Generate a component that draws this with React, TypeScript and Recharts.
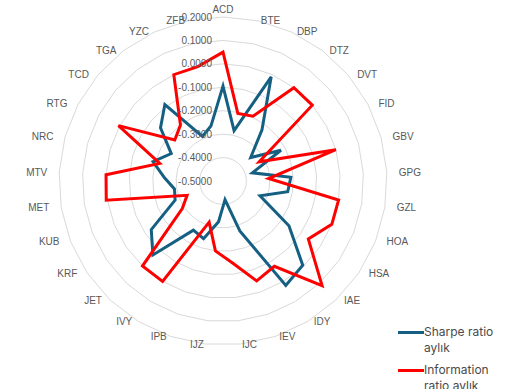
import { RadarChart, Radar, PolarGrid, PolarAngleAxis, PolarRadiusAxis, Legend } from 'recharts'

const categories = [
  'ACD', 'BTE', 'DBP', 'DTZ', 'DVT', 'FID', 'GBV', 'GPG', 'GZL', 'HOA',
  'HSA', 'IAE', 'IDY', 'IEV', 'IJC', 'IJZ', 'IPB', 'IVY', 'JET', 'KRF',
  'KUB', 'MET', 'MTV', 'NRC', 'RTG', 'TCD', 'TGA', 'YZC', 'ZFB'
]

const sharpeMonthly = [
  -0.095, -0.28, -0.01, -0.225, -0.345, -0.22, -0.37, -0.21, -0.22, -0.33,
  -0.16, -0.005, 0.02, -0.275, -0.42, -0.325, -0.24, -0.255, -0.065, -0.13,
  -0.28, -0.29, -0.25, -0.19, -0.25, -0.15, -0.09, -0.29, -0.26
]

const infoMonthly = [
  0.05, -0.205, -0.195, 0.0, 0.0, -0.325, 0.0, -0.305, 0.0, 0.0,
  -0.06, 0.115, -0.075, -0.05, -0.15, -0.2, -0.315, 0.0, 0.0, -0.29,
  -0.335, 0.005, 0.0, -0.22, 0.005, -0.23, -0.2, 0.0, 0.0
]

const radiusTicks = [-0.5, -0.4, -0.3, -0.2, -0.1, 0, 0.1, 0.2]

const seriesNames = ['Sharpe ratio aylık', 'Information ratio aylık']

const data = categories.map((name, i) => ({
  name,
  sharpe: sharpeMonthly[i],
  info: infoMonthly[i]
}))

const CX = 223
const CY = 181
const R = 164
const GREY = '#595959'
const BLUE = '#156082'
const RED = '#ff0000'

const fmt = (v: number) => (Math.abs(v) < 1e-9 ? 0 : v).toFixed(4)

// Excel puts the category labels just outside the outer ring
const AngleTick = ({ payload }: any) => {
  const i = categories.indexOf(payload.value)
  const a = (i * 2 * Math.PI) / categories.length
  const s = Math.sin(a)
  const c = Math.cos(a)
  const anchor = Math.abs(s) < 0.05 ? 'middle' : s > 0 ? 'start' : 'end'
  const x = CX + 176 * s
  let y = CY - 164.5 * c
  if (anchor === 'middle' && c > 0) y -= 7
  return (
    <text x={x} y={y} textAnchor={anchor} dominantBaseline="central"
      fontSize={10} fill={GREY} fontFamily="'Liberation Sans', Arial, sans-serif">
      {payload.value}
    </text>
  )
}

const RadiusTick = ({ x, y, payload }: any) => (
  <text x={x - 11} y={y} textAnchor="end" dominantBaseline="central"
    fontSize={10} fill={GREY} fontFamily="'Liberation Sans', Arial, sans-serif">
    {fmt(payload.value)}
  </text>
)

const LegendContent = ({ payload }: any) => {
  const items = [...(payload || [])].sort(
    (a: any, b: any) => seriesNames.indexOf(a.value) - seriesNames.indexOf(b.value)
  )
  return (
    <div style={{ fontFamily: 'Inter, sans-serif', fontSize: 12, color: '#4a4a4a' }}>
      {items.map((p: any) => (
        <div key={p.value} style={{ display: 'flex', alignItems: 'flex-start', marginBottom: 6 }}>
          <span style={{
            width: 26, height: 3, marginTop: 6.5, flexShrink: 0,
            background: p.dataKey === 'info' ? RED : BLUE
          }} />
          <span style={{ width: 80, lineHeight: '16px' }}>{p.value}</span>
        </div>
      ))}
    </div>
  )
}

export default function App() {
  return (
    <div style={{ position: 'absolute', left: 0, top: 0, width: 505, height: 389, background: '#fff' }}>
      <RadarChart width={505} height={389} data={data} cx={CX} cy={CY} outerRadius={R}
        margin={{ top: 0, right: 0, bottom: 0, left: 0 }}>
        <PolarGrid gridType="polygon" radialLines={false} stroke="#d9d9d9" strokeWidth={1} />
        <PolarAngleAxis dataKey="name" tick={<AngleTick />} tickLine={false} axisLine={false} />
        <PolarRadiusAxis angle={90} type="number" domain={[-0.5, 0.2]} ticks={radiusTicks}
          tickCount={8} allowDecimals axisLine={false} tickLine={false} tick={<RadiusTick />} />
        <Radar name={seriesNames[0]} dataKey="sharpe" stroke={BLUE} strokeWidth={3}
          fill="none" fillOpacity={0} dot={false} isAnimationActive={false} />
        <Radar name={seriesNames[1]} dataKey="info" stroke={RED} strokeWidth={3}
          fill="none" fillOpacity={0} dot={false} isAnimationActive={false} />
        <Legend content={<LegendContent />} layout="vertical"
          wrapperStyle={{ left: 398, top: 324, width: 107 }} />
      </RadarChart>
    </div>
  )
}
